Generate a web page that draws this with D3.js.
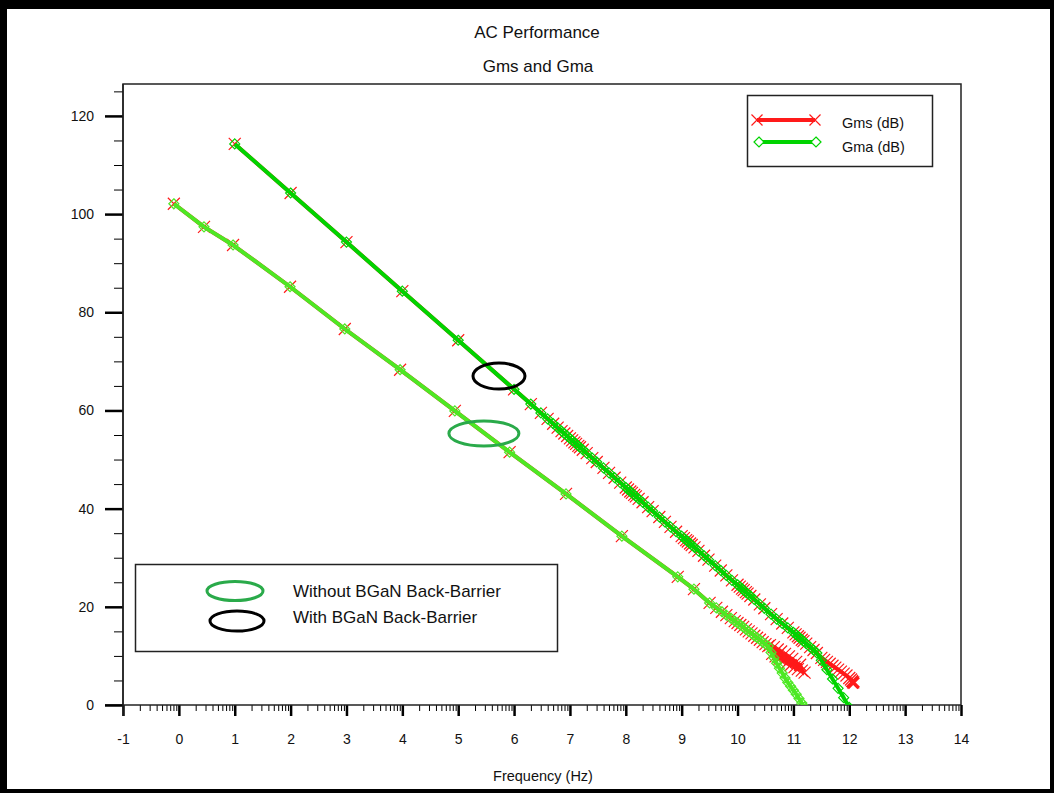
<!DOCTYPE html>
<html>
<head>
<meta charset="utf-8">
<script src="https://cdn.jsdelivr.net/npm/d3@7"></script>
<style>
  body { margin: 0; background: #fff; }
  svg { display: block; font-family: Arial, "Liberation Sans", sans-serif; }
  .axis text { fill: #111; font-size: 14px; }
</style>
</head>
<body>
<script>
// x is log10 of frequency, y is gain in dB

// with BGaN back-barrier (upper curve), Gms == Gma up to the split
var withFreq = [1, 2, 3, 4, 5, 6, 6.3, 6.48, 6.6, 6.7, 6.78, 6.85, 6.9, 6.95,
  7, 7.04, 7.08, 7.11, 7.15, 7.18, 7.23, 7.3, 7.4, 7.48, 7.6, 7.7, 7.8, 7.9,
  8, 8.04, 8.08, 8.11, 8.15, 8.18, 8.23, 8.3, 8.4, 8.48, 8.6, 8.7, 8.8, 8.9,
  9, 9.04, 9.08, 9.11, 9.15, 9.18, 9.23, 9.3, 9.4, 9.48, 9.6, 9.7, 9.8, 9.9,
  10, 10.04, 10.08, 10.11, 10.15, 10.18, 10.23, 10.3, 10.4, 10.48, 10.6, 10.7, 10.8, 10.9,
  11, 11.04, 11.08, 11.11, 11.15, 11.18, 11.23, 11.3, 11.36, 11.42];
var withGain = [114.3, 104.3, 94.3, 84.3, 74.3, 64.3, 61.3, 59.5, 58.3, 57.3, 56.5, 55.8, 55.3, 54.8,
  54.3, 53.9, 53.5, 53.2, 52.8, 52.5, 52.0, 51.3, 50.3, 49.5, 48.3, 47.3, 46.3, 45.3,
  44.3, 43.9, 43.5, 43.2, 42.8, 42.5, 42.0, 41.3, 40.3, 39.5, 38.3, 37.3, 36.3, 35.3,
  34.4, 34.0, 33.6, 33.3, 32.9, 32.6, 32.1, 31.4, 30.4, 29.6, 28.4, 27.4, 26.4, 25.4,
  24.5, 24.1, 23.7, 23.4, 23.0, 22.7, 22.2, 21.5, 20.5, 19.7, 18.5, 17.5, 16.6, 15.7,
  14.8, 14.4, 14.0, 13.7, 13.3, 13.0, 12.5, 11.8, 11.2, 10.6];
var withGmsTailFreq = [11.5, 11.55, 11.6, 11.65, 11.7, 11.75, 11.8, 11.85, 11.9, 11.95, 12.0, 12.03, 12.05, 12.07];
var withGmsTailGain = [9.6, 9.2, 8.8, 8.4, 8.0, 7.6, 7.2, 6.8, 6.4, 6.0, 5.5, 5.2, 4.9, 4.6];
var withGmaTailFreq = [11.5, 11.6, 11.7, 11.8, 11.9, 12.0];
var withGmaTailGain = [9.1, 7.2, 5.3, 3.4, 1.5, -0.5];

// without BGaN back-barrier (lower curve)
var withoutFreq = [-0.09, 0.45, 0.97, 1.99, 2.97, 3.96, 4.94, 5.92, 6.93, 7.93, 8.93, 9.22, 9.5,
  9.62, 9.72, 9.8, 9.88, 9.95, 10.0, 10.05, 10.1, 10.15, 10.2, 10.25, 10.3, 10.35, 10.4, 10.45, 10.5, 10.55];
var withoutGain = [102.1, 97.4, 93.7, 85.2, 76.6, 68.3, 59.9, 51.5, 43.0, 34.4, 26.1, 23.6, 20.8,
  19.8, 19.0, 18.3, 17.7, 17.1, 16.7, 16.3, 15.9, 15.4, 15.0, 14.6, 14.1, 13.7, 13.3, 12.8, 12.4, 12.0];
var withoutGmsTailFreq = [10.58, 10.62, 10.65, 10.68, 10.72, 10.75, 10.78, 10.82, 10.85, 10.88, 10.92, 10.95,
  10.98, 11.02, 11.05, 11.08, 11.12, 11.15, 11.2];
var withoutGmsTailGain = [12.2, 10.4, 11.8, 9.9, 11.3, 9.4, 10.9, 9.0, 10.4, 8.5, 9.9, 8.1, 9.4, 7.7, 8.8, 7.3, 8.2, 7.0, 6.6];
var withoutGmaTailFreq = [10.6, 10.65, 10.7, 10.75, 10.8, 10.85, 10.9, 10.95, 11.0, 11.05, 11.1, 11.15, 11.2];
var withoutGmaTailGain = [10.7, 9.6, 8.5, 7.5, 6.5, 5.5, 4.6, 3.8, 3.0, 2.2, 1.3, 0.4, -0.4];

var xMajor = [-1, 0, 1, 2, 3, 4, 5, 6, 7, 8, 9, 10, 11, 12, 13, 14];
var yMajor = [0, 20, 40, 60, 80, 100, 120];
var yMinor = [5, 10, 15, 25, 30, 35, 45, 50, 55, 65, 70, 75, 85, 90, 95, 105, 110, 115, 125];

var legendNames = ["Gms (dB)", "Gma (dB)"];
var noteNames = ["Without BGaN Back-Barrier", "With BGaN Back-Barrier"];
// annotation ellipse centres, in data units
var noteX = [5.46, 5.73];
var noteY = [55.3, 67.0];

var W = 1054, H = 793;
var plot = { left: 123, right: 961, top: 84, bottom: 705 };

var svg = d3.select("body").append("svg")
  .attr("width", W).attr("height", H);

svg.append("rect").attr("width", W).attr("height", H).attr("fill", "#000");
svg.append("rect").attr("x", 7).attr("y", 9).attr("width", W - 11).attr("height", H - 13).attr("fill", "#fff");

var x = d3.scaleLinear().domain([-1, 14]).range([plot.left, plot.right]);
var y = d3.scaleLinear().domain([0, 126.5]).range([plot.bottom, plot.top]);

// titles
svg.append("text").attr("x", 537).attr("y", 38).attr("text-anchor", "middle")
  .style("font-size", "17px").attr("fill", "#111").text("AC Performance");
svg.append("text").attr("x", 538).attr("y", 72).attr("text-anchor", "middle")
  .style("font-size", "17px").attr("fill", "#111").text("Gms and Gma");
svg.append("text").attr("x", 543).attr("y", 781).attr("text-anchor", "middle")
  .style("font-size", "14.5px").attr("fill", "#111").text("Frequency (Hz)");

// frame
svg.append("path")
  .attr("d", "M" + plot.left + "," + plot.bottom + "V" + plot.top + "H" + plot.right + "V" + plot.bottom)
  .attr("fill", "none").attr("stroke", "#222").attr("stroke-width", 1.5);

// x minor ticks at log positions inside each decade
var xMinor = [];
for (var d = -1; d < 14; d++) {
  for (var k = 2; k <= 9; k++) xMinor.push(d + Math.log10(k));
}
var plain = function (v) { return String(v); };

var gx = svg.append("g").attr("class", "axis").attr("transform", "translate(0," + plot.bottom + ")");
gx.call(d3.axisBottom(x).tickValues(xMinor).tickSize(6).tickFormat(""));
gx.append("g").call(d3.axisBottom(x).tickValues(xMajor).tickSize(11).tickPadding(18).tickFormat(plain));
gx.selectAll(".domain").remove();
gx.selectAll("line").attr("stroke", "#000");
gx.selectAll("g > g > .tick line").attr("stroke-width", 2.5);
gx.append("line").attr("x1", 105).attr("x2", plot.right).attr("stroke", "#222").attr("stroke-width", 1.5);

var gy = svg.append("g").attr("class", "axis").attr("transform", "translate(" + plot.left + ",0)");
gy.call(d3.axisLeft(y).tickValues(yMinor).tickSize(9).tickFormat(""));
gy.append("g").call(d3.axisLeft(y).tickValues(yMajor).tickSize(18).tickPadding(11).tickFormat(plain));
gy.selectAll(".domain").remove();
gy.selectAll("line").attr("stroke", "#000");
gy.selectAll("g > g > .tick line").attr("stroke-width", 2.5);
gy.append("line").attr("y1", plot.top).attr("y2", 716).attr("stroke", "#222").attr("stroke-width", 1.5);

// data
svg.append("clipPath").attr("id", "clip").append("rect")
  .attr("x", plot.left).attr("y", plot.top)
  .attr("width", plot.right - plot.left).attr("height", plot.bottom - plot.top);
var g = svg.append("g").attr("clip-path", "url(#clip)");

function pts(fs, gs) {
  return fs.map(function (f, i) { return [f, gs[i]]; });
}
var line = d3.line().x(function (p) { return x(p[0]); }).y(function (p) { return y(p[1]); });
var cross = function (s) { return "M" + (-s) + "," + (-s) + "L" + s + "," + s + "M" + (-s) + "," + s + "L" + s + "," + (-s); };
var diamond = function (s) { return "M0," + (-s) + "L" + s + ",0L0," + s + "L" + (-s) + ",0Z"; };

var RED = "#ff1a1a";

function series(data, color, width, marker, size) {
  g.append("path").attr("d", line(data)).attr("fill", "none")
    .attr("stroke", color).attr("stroke-width", width).attr("stroke-linejoin", "round");
  g.selectAll(null).data(data).enter().append("path")
    .attr("transform", function (p) { return "translate(" + x(p[0]) + "," + y(p[1]) + ")"; })
    .attr("d", marker(size)).attr("fill", "none").attr("stroke", color).attr("stroke-width", 1.2);
}

var devices = [
  { f: withoutFreq, g: withoutGain, sF: withoutGmsTailFreq, sG: withoutGmsTailGain,
    aF: withoutGmaTailFreq, aG: withoutGmaTailGain, green: "#4de824" },
  { f: withFreq, g: withGain, sF: withGmsTailFreq, sG: withGmsTailGain,
    aF: withGmaTailFreq, aG: withGmaTailGain, green: "#00d400" }
];

devices.forEach(function (dv) {
  var gms = pts(dv.f, dv.g).concat(pts(dv.sF, dv.sG));
  var gma = pts(dv.f, dv.g).concat(pts(dv.aF, dv.aG));
  series(gms, RED, 4, cross, 6);
  series(gma, dv.green, 4, diamond, 5);
});

// end marker of upper Gms
g.append("path")
  .attr("transform", "translate(" + x(withGmsTailFreq[withGmsTailFreq.length - 1]) + "," + y(withGmsTailGain[withGmsTailGain.length - 1]) + ")")
  .attr("d", cross(5.5)).attr("stroke", RED).attr("stroke-width", 3.5);

// annotation ellipses
svg.append("ellipse").attr("cx", x(noteX[0])).attr("cy", y(noteY[0]))
  .attr("rx", 35).attr("ry", 12.5).attr("fill", "none").attr("stroke", "#2aaa4a").attr("stroke-width", 3);
svg.append("ellipse").attr("cx", x(noteX[1])).attr("cy", y(noteY[1]))
  .attr("rx", 26).attr("ry", 13).attr("fill", "none").attr("stroke", "#000").attr("stroke-width", 3);

// legend top right
var lg = svg.append("g");
lg.append("rect").attr("x", 747.5).attr("y", 95.5).attr("width", 185).attr("height", 71)
  .attr("fill", "#fff").attr("stroke", "#222").attr("stroke-width", 1.5);
lg.append("line").attr("x1", 757).attr("x2", 815).attr("y1", 120).attr("y2", 120)
  .attr("stroke", RED).attr("stroke-width", 4);
[757, 815].forEach(function (px) {
  lg.append("path").attr("transform", "translate(" + px + ",120)").attr("d", cross(5.5))
    .attr("stroke", RED).attr("stroke-width", 1.2);
});
lg.append("line").attr("x1", 759).attr("x2", 816).attr("y1", 142).attr("y2", 142)
  .attr("stroke", "#00d400").attr("stroke-width", 4);
[759, 816].forEach(function (px) {
  lg.append("path").attr("transform", "translate(" + px + ",142)").attr("d", diamond(5))
    .attr("fill", "#fff").attr("stroke", "#00d400").attr("stroke-width", 1.2);
});
legendNames.forEach(function (t, i) {
  lg.append("text").attr("x", 842).attr("y", 128 + i * 24).style("font-size", "14.5px")
    .attr("fill", "#111").text(t);
});

// legend bottom left
var nb = svg.append("g");
nb.append("rect").attr("x", 135.5).attr("y", 564.5).attr("width", 422).attr("height", 87)
  .attr("fill", "#fff").attr("stroke", "#222").attr("stroke-width", 1.5);
nb.append("ellipse").attr("cx", 235).attr("cy", 591).attr("rx", 28).attr("ry", 9.5)
  .attr("fill", "none").attr("stroke", "#2aaa4a").attr("stroke-width", 3);
nb.append("ellipse").attr("cx", 237).attr("cy", 621).attr("rx", 27).attr("ry", 10)
  .attr("fill", "none").attr("stroke", "#000").attr("stroke-width", 3);
noteNames.forEach(function (t, i) {
  nb.append("text").attr("x", 293).attr("y", 597 + i * 26).style("font-size", "17px")
    .attr("fill", "#111").text(t);
});
</script>
</body>
</html>
